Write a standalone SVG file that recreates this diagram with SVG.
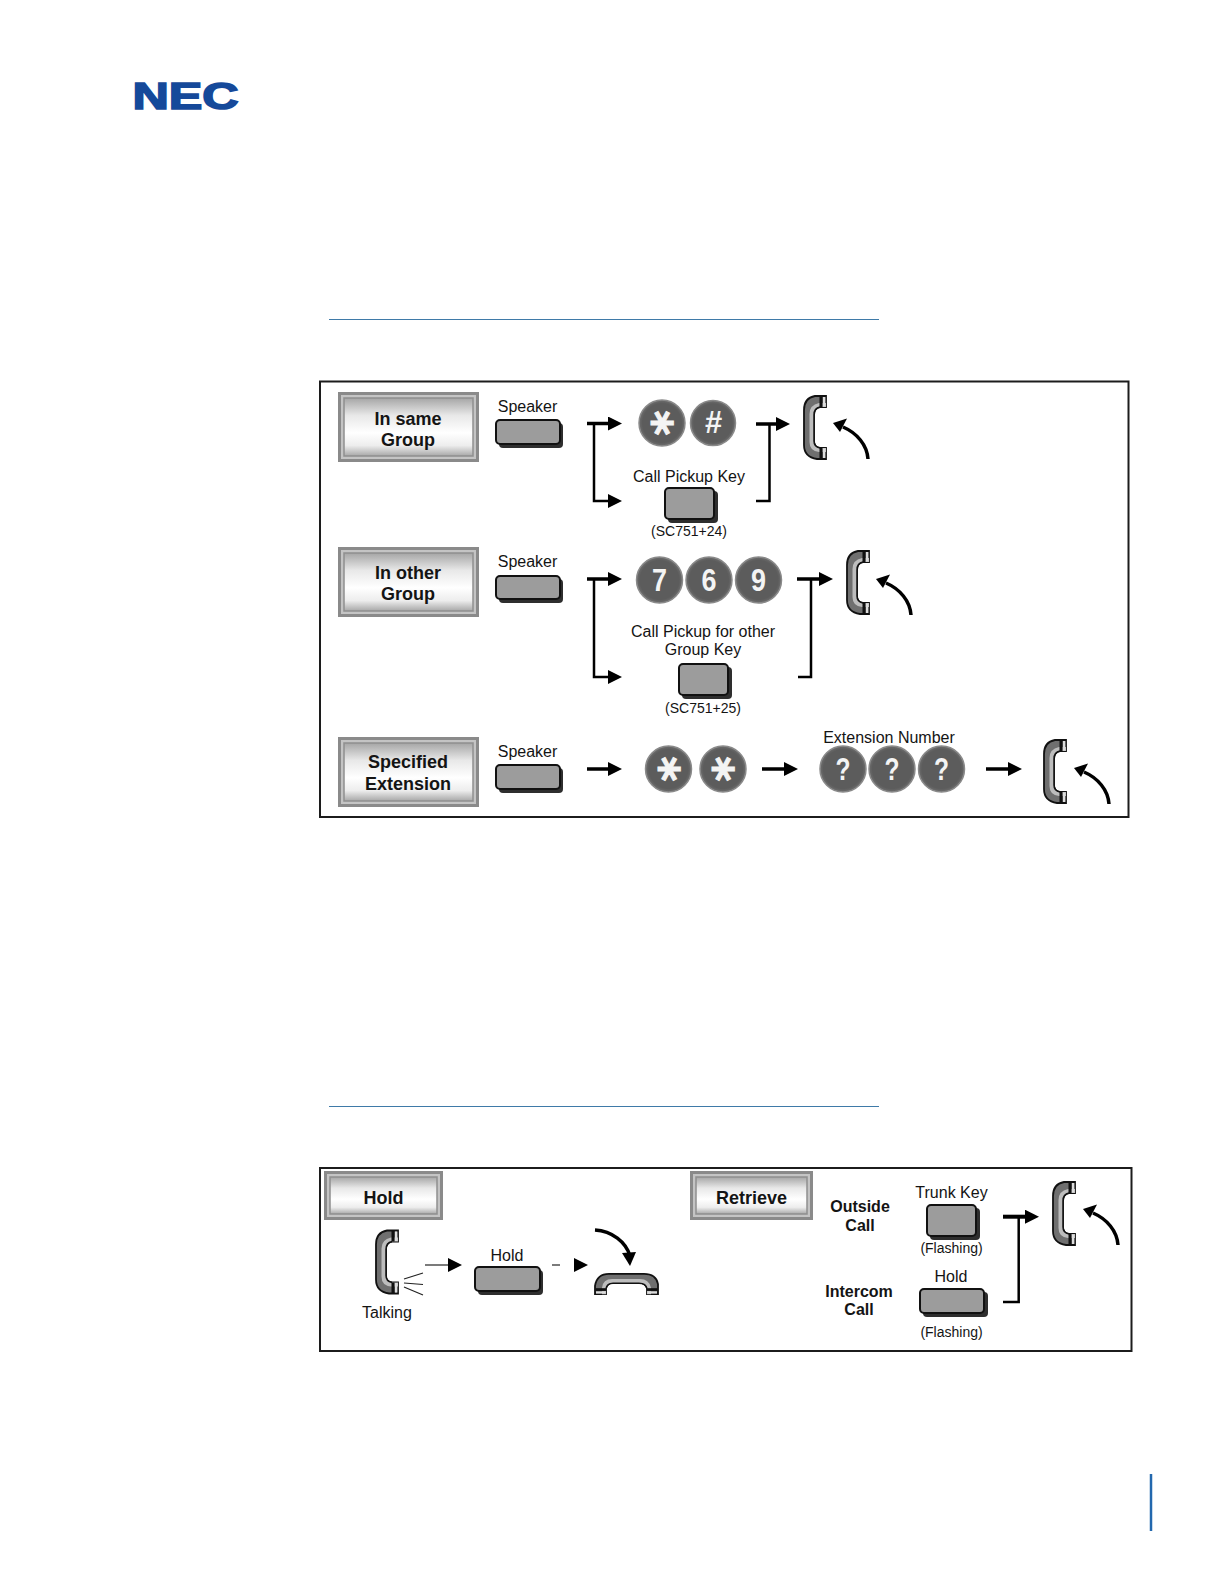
<svg xmlns="http://www.w3.org/2000/svg" xmlns:xlink="http://www.w3.org/1999/xlink" width="1224" height="1584" viewBox="0 0 1224 1584">
<style>
text{font-family:"Liberation Sans",Arial,sans-serif;fill:#141414;text-anchor:middle}
.t{font-size:16px}
.s{font-size:14px}
.l{font-size:18px;font-weight:bold}
.b{font-size:16px;font-weight:bold}
.d{font-size:31px;font-weight:bold;fill:#f4f4f4}
.a{font-family:"DejaVu Sans",sans-serif;font-size:48px;font-weight:bold;fill:#f4f4f4;stroke:#f4f4f4;stroke-width:1}
.frame{fill:#fff;stroke:#1c1c1c;stroke-width:2}
.o{fill:#c4c4c4;stroke:#8a8a8a;stroke-width:3}
.i{fill:url(#lg);stroke:#8f8f8f;stroke-width:1.500}
.kb{fill:#2e2e2e}
.k{fill:#9c9c9c;stroke:#111;stroke-width:2}
.c{fill:url(#bg);stroke:#8a8a8a;stroke-width:1.500}
.ln{fill:none;stroke:#000;stroke-width:3.500}
.tn{fill:none;stroke:#000;stroke-width:2.500}
.th{fill:none;stroke:#222;stroke-width:1.200}
.rule{stroke:#3f7aa8;stroke-width:1}
</style>
<defs>
<linearGradient id="lg" x1="0" y1="0" x2="0" y2="1">
<stop offset="0" stop-color="#a6a6a6"/><stop offset=".3" stop-color="#e8e8e8"/><stop offset=".6" stop-color="#fff"/><stop offset=".82" stop-color="#ededed"/><stop offset="1" stop-color="#a8a8a8"/>
</linearGradient>
<radialGradient id="bg" cx=".5" cy=".5" r=".5">
<stop offset=".85" stop-color="#5c5c5c"/><stop offset="1" stop-color="#6e6e6e"/>
</radialGradient>
<marker id="h" markerUnits="userSpaceOnUse" markerWidth="14" markerHeight="14" refX="0" refY="7" orient="auto"><path d="M0 0L14 7L0 14Z" fill="#000"/></marker>
<g id="hs">
<path d="M12 1L23 1L23 12L17 12Q11 13 11 20L11 46Q11 52 17 53L23 53L23 64L14 64Q1 62 1 50L1 15Q1 3 12 1Z" fill="#6f6f6f" stroke="#111" stroke-width="1.800"/>
<path d="M23 8L16 8Q6.500 10 6.500 19L6.500 47Q6.500 56 16 57L23 57L23 53L17 53Q11 52 11 46L11 20Q11 13 17 12L23 12Z" fill="#bdbdbd"/>
<path d="M17 12Q11 13 11 20L11 46Q11 52 17 53" fill="none" stroke="#111" stroke-width="1.500"/>
<rect x="16.500" y="1.500" width="3" height="10.500" fill="#111"/>
<rect x="16.500" y="53" width="3" height="10.500" fill="#111"/>
<rect x="20" y="2" width="2.400" height="9.500" fill="#ddd"/>
<rect x="20" y="53.500" width="2.400" height="9.500" fill="#ddd"/>
</g>
<g id="cv">
<path d="M35 36C34 22 24 10 10 4" fill="none" stroke="#000" stroke-width="3.500"/>
<path d="M0 0L14 -4.500L7 9Z" fill="#000"/>
</g>
</defs>

<g id="logo"><text transform="translate(185.500 109) scale(1.36 1)" x="0" y="0" style="font-size:37px;font-weight:bold;fill:#15499a;stroke:#15499a;stroke-width:1.600">NEC</text></g>
<line class="rule" x1="329" y1="319.500" x2="879" y2="319.500"/>
<line class="rule" x1="329" y1="1106.500" x2="879" y2="1106.500"/>
<line id="page-bar" x1="1151" y1="1474" x2="1151" y2="1531" stroke="#2368ae" stroke-width="2.500"/>

<rect id="frame-top" class="frame" x="320" y="381.500" width="808.500" height="435.500"/>
<rect id="frame-bottom" class="frame" x="320" y="1168" width="811.500" height="183"/>

<g id="connectors">
<path class="ln" d="M587 423.500H608" marker-end="url(#h)"/>
<path class="tn" d="M594 423.500V501H608" marker-end="url(#h)"/>
<path class="ln" d="M756 424H776" marker-end="url(#h)"/>
<path class="tn" d="M756 501H769.500V424"/>
<path class="ln" d="M587 579H608" marker-end="url(#h)"/>
<path class="tn" d="M594 579V677H608" marker-end="url(#h)"/>
<path class="ln" d="M797 579H819" marker-end="url(#h)"/>
<path class="tn" d="M798 677H811V579"/>
<path class="ln" d="M587 769H608" marker-end="url(#h)"/>
<path class="ln" d="M762 769H784" marker-end="url(#h)"/>
<path class="ln" d="M986 769H1008" marker-end="url(#h)"/>
<path class="th" d="M425 1265H448" marker-end="url(#h)"/>
<path class="th" d="M552 1265H560"/>
<path d="M574 1258L588 1265L574 1272Z" fill="#000"/>
<path d="M1003 1216.700H1025" stroke="#000" stroke-width="4" fill="none" marker-end="url(#h)"/>
<path class="tn" d="M1003 1302H1018.700V1217"/>
<use href="#cv" x="833" y="423"/>
<use href="#cv" x="876" y="579"/>
<use href="#cv" x="1074" y="768"/>
<use href="#cv" x="1083" y="1209"/>
<path d="M595 1230C612 1231 626 1242 630 1256" fill="none" stroke="#000" stroke-width="3.500"/>
<path d="M622 1253L636 1252L630 1266Z" fill="#000"/>
<path class="th" d="M404 1279L423 1273M404 1283L423 1284.500M404 1287L423 1295"/>
</g>

<g id="label-same"><rect class="o" x="339.500" y="393.500" width="138" height="67"/><rect class="i" x="344" y="398" width="129" height="58"/><text class="l" x="408" y="425">In same</text><text class="l" x="408" y="446">Group</text></g>
<g id="label-other"><rect class="o" x="339.500" y="548.500" width="138" height="67"/><rect class="i" x="344" y="553" width="129" height="58"/><text class="l" x="408" y="579">In other</text><text class="l" x="408" y="600">Group</text></g>
<g id="label-ext"><rect class="o" x="339.500" y="738.500" width="138" height="67"/><rect class="i" x="344" y="743" width="129" height="58"/><text class="l" x="408" y="768">Specified</text><text class="l" x="408" y="790">Extension</text></g>

<g id="speaker-1"><text class="t" x="527.500" y="412">Speaker</text><rect class="kb" x="499" y="423" width="64" height="25" rx="4"/><rect class="k" x="496" y="420" width="64" height="24" rx="4"/></g>
<g id="speaker-2"><text class="t" x="527.500" y="567">Speaker</text><rect class="kb" x="499" y="579" width="64" height="24" rx="4"/><rect class="k" x="496" y="576" width="64" height="23" rx="4"/></g>
<g id="speaker-3"><text class="t" x="527.500" y="757">Speaker</text><rect class="kb" x="499" y="768" width="64" height="25" rx="4"/><rect class="k" x="496" y="765" width="64" height="24" rx="4"/></g>

<g id="btn-star-1"><circle class="c" cx="662" cy="423" r="23"/><text class="a" x="662" y="447" transform="rotate(90 662 423)">*</text></g>
<g id="btn-hash"><circle class="c" cx="713" cy="423" r="22.500"/><text class="d" x="713.500" y="433">#</text></g>
<g id="btn-7"><circle class="c" cx="659.500" cy="580" r="23"/><text class="d" x="659.500" y="591" textLength="15" lengthAdjust="spacingAndGlyphs">7</text></g>
<g id="btn-6"><circle class="c" cx="709" cy="580" r="23"/><text class="d" x="709" y="591" textLength="15" lengthAdjust="spacingAndGlyphs">6</text></g>
<g id="btn-9"><circle class="c" cx="758.500" cy="580" r="23"/><text class="d" x="758.500" y="591" textLength="15" lengthAdjust="spacingAndGlyphs">9</text></g>
<g id="btn-star-2"><circle class="c" cx="668.500" cy="769" r="23"/><text class="a" x="668.500" y="793" transform="rotate(90 668.500 769)">*</text></g>
<g id="btn-star-3"><circle class="c" cx="723" cy="769" r="23"/><text class="a" x="723" y="793" transform="rotate(90 723 769)">*</text></g>
<g id="btn-q1"><circle class="c" cx="843" cy="769" r="23"/><text class="d" x="843" y="780" textLength="15" lengthAdjust="spacingAndGlyphs">?</text></g>
<g id="btn-q2"><circle class="c" cx="892" cy="769" r="23"/><text class="d" x="892" y="780" textLength="15" lengthAdjust="spacingAndGlyphs">?</text></g>
<g id="btn-q3"><circle class="c" cx="941.500" cy="769" r="23"/><text class="d" x="941.500" y="780" textLength="15" lengthAdjust="spacingAndGlyphs">?</text></g>

<g id="pickup-key"><text class="t" x="689" y="482">Call Pickup Key</text><rect class="kb" x="668" y="491" width="50" height="32" rx="4"/><rect class="k" x="665" y="488" width="49" height="31" rx="4"/><text class="s" x="689" y="536">(SC751+24)</text></g>
<g id="pickup-other-key"><text class="t" x="703" y="637">Call Pickup for other</text><text class="t" x="703" y="655">Group Key</text><rect class="kb" x="682" y="667" width="50" height="32" rx="4"/><rect class="k" x="679" y="664" width="49" height="31" rx="4"/><text class="s" x="703" y="713">(SC751+25)</text></g>
<text id="ext-label" class="t" x="889" y="742.500">Extension Number</text>

<g id="handset-1"><use href="#hs" x="803" y="395"/></g>
<g id="handset-2"><use href="#hs" x="846" y="550"/></g>
<g id="handset-3"><use href="#hs" x="1043" y="739"/></g>

<g id="label-hold"><rect class="o" x="325.500" y="1172.500" width="116" height="46"/><rect class="i" x="330" y="1177" width="107" height="37"/><text class="l" x="383.500" y="1204">Hold</text></g>
<g id="label-retrieve"><rect class="o" x="691.500" y="1172.500" width="120" height="46"/><rect class="i" x="696" y="1177" width="111" height="37"/><text class="l" x="751.500" y="1204">Retrieve</text></g>
<g id="handset-talk"><use href="#hs" x="375" y="1229.500"/><text class="t" x="387" y="1318">Talking</text></g>
<g id="hold-key"><text class="t" x="507" y="1261">Hold</text><rect class="kb" x="478" y="1270" width="65" height="25" rx="4"/><rect class="k" x="475" y="1267" width="65" height="24" rx="4"/></g>
<g id="handset-down"><use href="#hs" transform="translate(659 1273) rotate(90) scale(.92 1)"/></g>
<g id="outside-call"><text class="b" x="860" y="1212">Outside</text><text class="b" x="860" y="1231">Call</text></g>
<g id="intercom-call"><text class="b" x="859" y="1297">Intercom</text><text class="b" x="859" y="1315">Call</text></g>
<g id="trunk-key"><text class="t" x="951.500" y="1198">Trunk Key</text><rect class="kb" x="930" y="1208" width="50" height="32" rx="4"/><rect class="k" x="927" y="1205" width="49" height="31" rx="4"/><text class="s" x="951.500" y="1253">(Flashing)</text></g>
<g id="hold-key-2"><text class="t" x="951" y="1282">Hold</text><rect class="kb" x="923" y="1292" width="65" height="25" rx="4"/><rect class="k" x="920" y="1289" width="64" height="24" rx="4"/><text class="s" x="951.500" y="1337">(Flashing)</text></g>
<g id="handset-4"><use href="#hs" x="1052" y="1181"/></g>
</svg>
